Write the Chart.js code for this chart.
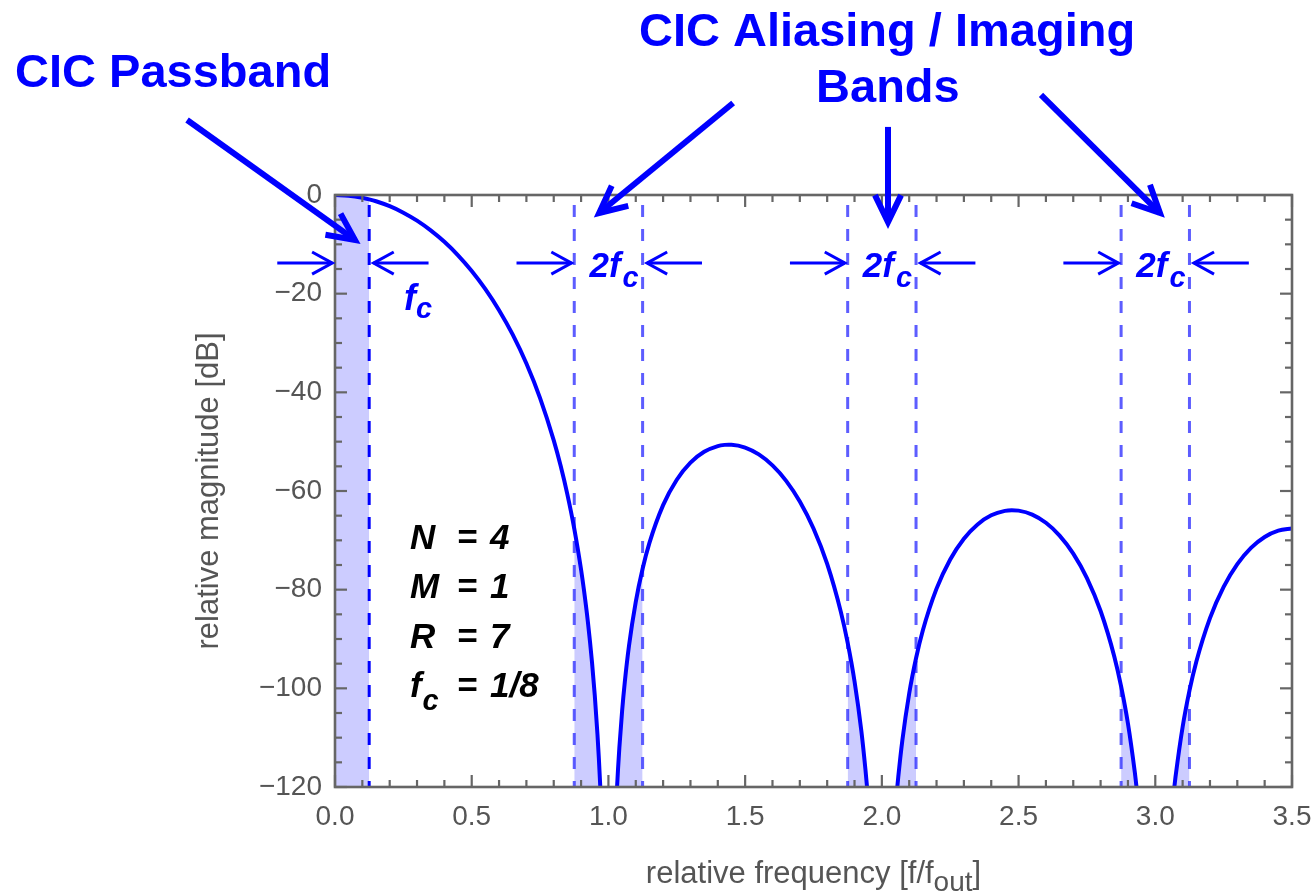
<!DOCTYPE html>
<html>
<head>
<meta charset="utf-8">
<title>CIC filter response</title>
<script src="https://cdn.jsdelivr.net/npm/chart.js@4.4.1/dist/chart.umd.min.js"></script>
<style>
  html, body { margin: 0; padding: 0; background: #ffffff; overflow: hidden; }
  #wrap { width: 1315px; height: 893px; position: relative; }
  #cic { display: block; }
</style>
</head>
<body>
<div id="wrap"><canvas id="cic"></canvas></div>
<script>
// CIC magnitude response, N = 4, M = 1, R = 7, in dB versus f / f_out.
// Each lobe between the nulls at f = 1, 2, 3 is its own run of samples.
const mainLobeFreq = [0, 0.05, 0.1, 0.125, 0.15, 0.2, 0.25, 0.3, 0.35, 0.4, 0.45, 0.5, 0.55, 0.6, 0.65, 0.7,
  0.75, 0.8, 0.825, 0.85, 0.875, 0.9, 0.91, 0.925, 0.94, 0.95, 0.96, 0.965, 0.97, 0.975];
const mainLobeDb = [0, -0.14, -0.56, -0.88, -1.27, -2.27, -3.58, -5.20, -7.17, -9.49, -12.22, -15.40, -19.08, -23.35, -28.32, -34.17,
  -41.16, -49.73, -54.84, -60.72, -67.61, -75.96, -79.88, -86.60, -94.77, -101.38, -109.42, -114.21, -119.72, -126.20];

const lobe2Freq = [1.03, 1.035, 1.04, 1.05, 1.06, 1.075, 1.1, 1.125, 1.15, 1.2, 1.25, 1.3, 1.35, 1.4, 1.425, 1.44, 1.45, 1.5,
  1.55, 1.6, 1.65, 1.7, 1.75, 1.8, 1.85, 1.875, 1.9, 1.925, 1.94, 1.945, 1.95];
const lobe2Db = [-121.66, -116.48, -112.02, -104.62, -98.66, -91.47, -82.46, -75.75, -70.51, -62.87, -57.72, -54.26, -52.06, -50.89, -50.65, -50.61, -50.62, -51.19,
  -52.58, -54.81, -57.94, -62.13, -67.61, -74.79, -84.50, -90.78, -98.56, -108.63, -116.47, -119.53, -122.87];

const lobe3Freq = [2.055, 2.06, 2.075, 2.1, 2.125, 2.15, 2.2, 2.25, 2.3, 2.35, 2.4, 2.45, 2.475, 2.5, 2.55, 2.6, 2.65,
  2.7, 2.75, 2.8, 2.85, 2.875, 2.9, 2.925, 2.93, 2.935];
const lobe3Db = [-120.90, -117.96, -110.50, -101.04, -93.90, -88.23, -79.79, -73.87, -69.67, -66.77, -64.93, -64.03, -63.90, -63.98, -64.78, -66.44, -69.03,
  -72.68, -77.64, -84.33, -93.54, -99.60, -107.13, -116.98, -119.36, -121.91];

const lobe4Freq = [3.065, 3.07, 3.075, 3.1, 3.125, 3.15, 3.2, 3.25, 3.3, 3.35, 3.4, 3.45, 3.5];
const lobe4Db = [-122.37, -119.86, -117.52, -107.84, -100.48, -94.61, -85.76, -79.43, -74.83, -71.54, -69.32, -68.03, -67.61];

// Band edges: passband edge f_c = 1/8, and k ± f_c around each null.
const bandEdges = [0.125, 0.875, 1.125, 1.875, 2.125, 2.875, 3.125];

// Axis tick labels
const xTickValues = [0, 0.5, 1, 1.5, 2, 2.5, 3, 3.5];
const yTickValues = [0, -20, -40, -60, -80, -100, -120];

// Parameter block
const paramNames = ['N', 'M', 'R', 'f'];
const paramValues = ['4', '1', '7', '1/8'];

const FONT = '"Liberation Sans", Arial, Helvetica, sans-serif';
const BLUE = '#0000ff';
const SHADE = 'rgba(0, 0, 255, 0.2)';
const DASH_SOFT = 'rgba(30, 30, 255, 0.72)';
const FRAME = '#666666';
const LABEL = '#555555';

const toPoints = (f, d) => f.map((v, i) => ({ x: v, y: d[i] }));
const lobes = [
  toPoints(mainLobeFreq, mainLobeDb),
  toPoints(lobe2Freq, lobe2Db),
  toPoints(lobe3Freq, lobe3Db),
  toPoints(lobe4Freq, lobe4Db)
];

const datasets = [];

// response curve
lobes.forEach(pts => datasets.push({
  data: pts, borderColor: BLUE, borderWidth: 4, pointRadius: 0,
  cubicInterpolationMode: 'monotone', fill: false, order: 0
}));

// shaded regions under the curve: passband and the three aliasing bands
const shaded = [[0, bandEdges[0]], [bandEdges[1], bandEdges[2]], [bandEdges[3], bandEdges[4]], [bandEdges[5], bandEdges[6]]];
shaded.forEach(([lo, hi]) => {
  lobes.forEach(pts => {
    const part = pts.filter(p => p.x >= lo - 1e-9 && p.x <= hi + 1e-9);
    if (part.length >= 2) {
      datasets.push({
        data: part, borderWidth: 0, borderColor: 'rgba(0,0,0,0)', backgroundColor: SHADE,
        pointRadius: 0, cubicInterpolationMode: 'monotone', fill: 'start', order: 2
      });
    }
  });
});

// dashed band-edge markers
bandEdges.forEach((e, i) => datasets.push({
  data: [{ x: e, y: 0 }, { x: e, y: -120 }],
  borderColor: i === 0 ? BLUE : DASH_SOFT, borderWidth: 3,
  borderDash: [12, 12], borderDashOffset: 14,
  pointRadius: 0, fill: false, tension: 0, order: 1
}));

// Mathematica-style frame with inward ticks on all four sides
const framePlugin = {
  id: 'frame',
  afterDatasetsDraw(chart) {
    const { ctx, chartArea: { left, right, top, bottom }, scales: { x, y } } = chart;
    ctx.save();
    ctx.strokeStyle = FRAME;
    ctx.lineWidth = 2.2;
    const seg = (x1, y1, x2, y2) => { ctx.beginPath(); ctx.moveTo(x1, y1); ctx.lineTo(x2, y2); ctx.stroke(); };
    for (let i = 0; i <= 35; i++) {
      const px = x.getPixelForValue(i / 10);
      const len = i % 5 === 0 ? 12 : 7;
      seg(px, bottom, px, bottom - len);
      seg(px, top, px, top + len);
    }
    for (let i = 0; i <= 24; i++) {
      const py = y.getPixelForValue(-5 * i);
      const len = i % 4 === 0 ? 12 : 7;
      seg(left, py, left + len, py);
      seg(right, py, right - len, py);
    }
    ctx.lineWidth = 2.6;
    ctx.strokeRect(left, top, right - left, bottom - top);
    ctx.restore();
  }
};

// annotation anchors, in axis units (f/f_out, dB)
const notes = {
  passTitle: [-1.170, 21.9],
  aliasTitle: [2.019, 30.2],
  aliasTitle2: [2.022, 18.85],
  bigArrows: [
    [-0.541, 15.2, 0.073, -9.1],
    [1.456, 18.65, 0.966, -3.65],
    [2.0225, 13.8, 2.0225, -5.5],
    [2.582, 20.3, 3.017, -3.65]
  ],
  markerY: -13.8,
  fcLabel: [0.252, -23.3],
  twoFcY: -16.6,
  paramX: 0.274, paramEqX: 0.483, paramValX: 0.567,
  paramY: [-71.8, -81.7, -91.8, -101.8]
};

function drawArrow(ctx, x1, y1, x2, y2, width, head, ang) {
  ctx.lineWidth = width;
  ctx.lineCap = 'butt';
  ctx.lineJoin = 'miter';
  ctx.miterLimit = 3;
  ctx.beginPath(); ctx.moveTo(x1, y1); ctx.lineTo(x2, y2); ctx.stroke();
  const a = Math.atan2(y1 - y2, x1 - x2);
  ctx.beginPath();
  ctx.moveTo(x2 + head * Math.cos(a + ang), y2 + head * Math.sin(a + ang));
  ctx.lineTo(x2, y2);
  ctx.lineTo(x2 + head * Math.cos(a - ang), y2 + head * Math.sin(a - ang));
  ctx.stroke();
}

const notesPlugin = {
  id: 'notes',
  afterDraw(chart) {
    const { ctx, scales: { x, y }, chartArea } = chart;
    const X = v => x.getPixelForValue(v);
    const Y = v => y.getPixelForValue(v);
    ctx.save();
    ctx.fillStyle = BLUE;
    ctx.strokeStyle = BLUE;
    ctx.textBaseline = 'alphabetic';

    // headings
    ctx.font = 'bold 47px ' + FONT;
    ctx.textAlign = 'left';
    ctx.fillText('CIC Passband', X(notes.passTitle[0]), Y(notes.passTitle[1]));
    ctx.textAlign = 'center';
    ctx.fillText('CIC Aliasing / Imaging', X(notes.aliasTitle[0]), Y(notes.aliasTitle[1]));
    ctx.fillText('Bands', X(notes.aliasTitle2[0]), Y(notes.aliasTitle2[1]));

    // pointer arrows
    notes.bigArrows.forEach(([fx1, d1, fx2, d2]) =>
      drawArrow(ctx, X(fx1), Y(d1), X(fx2), Y(d2), 6, 30, 0.45));

    // width markers around each band
    const my = Y(notes.markerY);
    shaded.forEach(([lo, hi]) => {
      const lt = X(lo - 0.01), rt = X(hi + 0.016);
      drawArrow(ctx, lt - 55, my, lt, my, 3, 23, 0.5);
      drawArrow(ctx, rt + 55, my, rt, my, 3, 23, 0.5);
    });

    // f_c label for the passband
    ctx.textAlign = 'left';
    ctx.font = 'italic bold 36px ' + FONT;
    const fx = X(notes.fcLabel[0]), fy = Y(notes.fcLabel[1]);
    ctx.fillText('f', fx, fy);
    const fw = ctx.measureText('f').width;
    ctx.font = 'italic bold 29px ' + FONT;
    ctx.fillText('c', fx + fw, fy + 8);

    // 2f_c labels centred in each aliasing band
    shaded.slice(1).forEach(([lo, hi]) => {
      const cx = (X(lo) + X(hi)) / 2 - 19;
      const by = Y(notes.twoFcY);
      ctx.font = 'italic bold 35px ' + FONT;
      ctx.fillText('2f', cx, by);
      const w = ctx.measureText('2f').width;
      ctx.font = 'italic bold 29px ' + FONT;
      ctx.fillText('c', cx + w + 2, by + 10);
    });

    // parameter block
    ctx.fillStyle = '#000000';
    paramNames.forEach((name, i) => {
      const by = Y(notes.paramY[i]);
      const px = X(notes.paramX);
      ctx.font = 'italic bold 35px ' + FONT;
      ctx.textAlign = 'left';
      ctx.fillText(name, px, by);
      if (name === 'f') {
        const w = ctx.measureText('f').width;
        ctx.font = 'italic bold 29px ' + FONT;
        ctx.fillText('c', px + w + 1, by + 13);
        ctx.font = 'italic bold 35px ' + FONT;
      }
      ctx.textAlign = 'center';
      ctx.fillText('=', X(notes.paramEqX), by);
      ctx.textAlign = 'left';
      ctx.fillText(paramValues[i], X(notes.paramValX), by);
    });

    // x-axis title with subscript
    ctx.fillStyle = LABEL;
    const mainFont = '31px ' + FONT, subFont = '28px ' + FONT;
    const parts = [['relative frequency [f/f', mainFont, 0], ['out', subFont, 8], [']', mainFont, 0]];
    let total = 0;
    parts.forEach(([t, f]) => { ctx.font = f; total += ctx.measureText(t).width; });
    let tx = (chartArea.left + chartArea.right) / 2 - total / 2;
    const tb = 883;
    ctx.textAlign = 'left';
    parts.forEach(([t, f, dy]) => {
      ctx.font = f;
      ctx.fillText(t, tx, tb + dy);
      tx += ctx.measureText(t).width;
    });
    ctx.restore();
  }
};

// pin the plot frame: fixed axis boxes, no extra label overhang padding
const pinX = s => { s.height = 106; s.paddingLeft = 0; s.paddingRight = 0; };
const pinY = s => { s.width = 144; s.paddingTop = 0; s.paddingBottom = 0; };

new Chart(document.getElementById('cic'), {
  type: 'line',
  data: { datasets },
  options: {
    responsive: true,
    maintainAspectRatio: false,
    devicePixelRatio: 1,
    animation: false,
    layout: { padding: { left: 191, top: 195, right: 23, bottom: 0 } },
    plugins: { legend: { display: false }, tooltip: { enabled: false } },
    scales: {
      x: {
        type: 'linear', min: 0, max: 3.5,
        afterBuildTicks: s => { s.ticks = xTickValues.map(v => ({ value: v })); },
        afterFit: pinX,
        grid: { display: false, drawTicks: false },
        border: { display: false },
        ticks: {
          autoSkip: false, maxRotation: 0, padding: 13, color: LABEL,
          font: { family: FONT, size: 28 },
          callback: v => Number(v).toFixed(1)
        }
      },
      y: {
        type: 'linear', min: -120, max: 0,
        afterBuildTicks: s => { s.ticks = yTickValues.map(v => ({ value: v })); },
        afterFit: pinY,
        grid: { display: false, drawTicks: false },
        border: { display: false },
        ticks: {
          autoSkip: false, padding: 13, color: LABEL,
          font: { family: FONT, size: 28 },
          callback: v => (v < 0 ? '\u2212' + Math.abs(v) : String(v))
        },
        title: {
          display: true, text: 'relative magnitude [dB]', color: LABEL,
          font: { family: FONT, size: 31 }, padding: 0
        }
      }
    }
  },
  plugins: [framePlugin, notesPlugin]
});
</script>
</body>
</html>
